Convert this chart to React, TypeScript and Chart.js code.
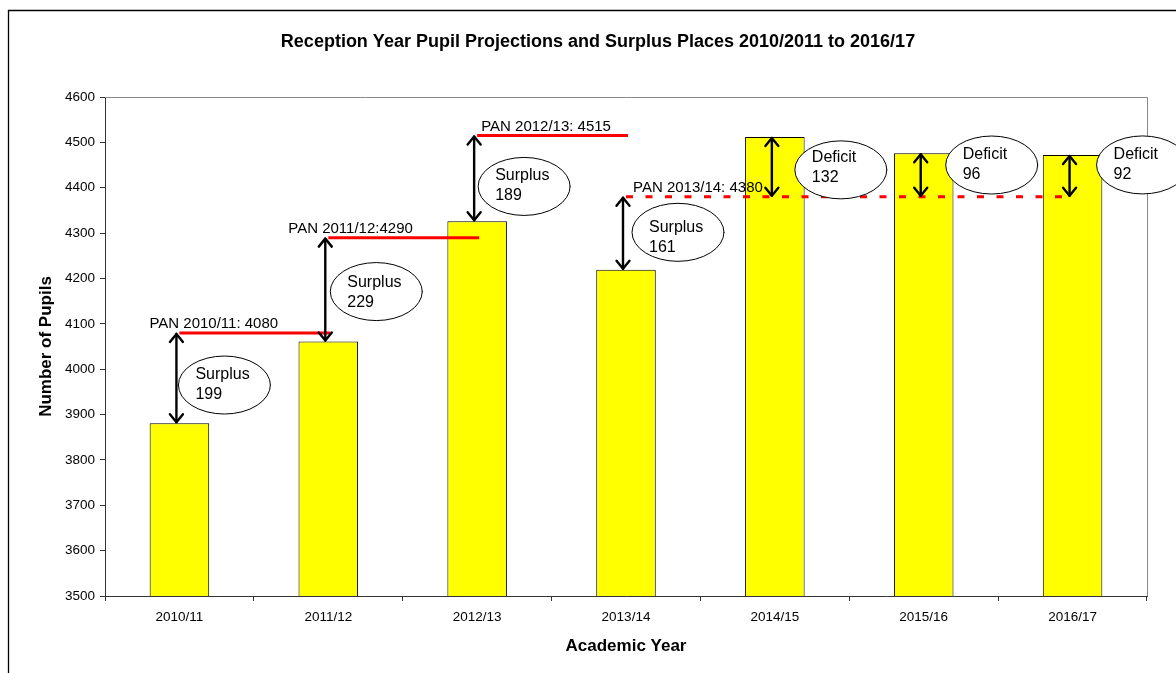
import React, { useEffect, useRef } from "react";
import { Chart, registerables } from "chart.js";

Chart.register(...registerables);

// ---------- data ----------
const categories = ["2010/11", "2011/12", "2012/13", "2013/14", "2014/15", "2015/16", "2016/17"];
const pupils = [3881, 4061, 4326, 4219, 4512, 4476, 4472];

const yMin = 3500;
const yMax = 4600;
const yStep = 100;

// PAN (published admission number) reference lines
const panLabels = ["PAN 2010/11: 4080", "PAN 2011/12:4290", "PAN 2012/13: 4515", "PAN 2013/14: 4380"];
const panValues = [4080, 4290, 4515, 4380];
const panFromCat = [0, 1, 2, 3];
const panToCat = [1, 2, 3, 6];

// surplus / deficit call-outs, one per year
const gapKinds = ["Surplus", "Surplus", "Surplus", "Surplus", "Deficit", "Deficit", "Deficit"];
const gapAmounts = [199, 229, 189, 161, 132, 96, 92];
const gapPanRef = [4080, 4290, 4515, 4380, 4380, 4380, 4380];

// ---------- styles / layout (pixels) ----------
const FONT = "'Liberation Sans', Arial, Helvetica, sans-serif";
const panStyle = {
  dashed: [false, false, false, true],
  labelDx: [-30, -40, 4, 7],
  labelDy: -5,
};
const calloutStyle = {
  arrowDx: -3,
  ellipseDx: [48, 51, 50, 55, 69, 71, 73],
  ellipseDy: [7, 2, 8, -1, 3, -10, -11],
  textDy: [-6, -5, -6, 0, -8, -6, -6],
  rx: 46,
  ry: 29,
};

const overlayPlugin = {
  id: "overlay",
  beforeDatasetsDraw(chart: any) {
    const { ctx, chartArea: a } = chart;
    ctx.save();
    ctx.strokeStyle = "#888888";
    ctx.lineWidth = 1;
    ctx.beginPath();
    ctx.moveTo(a.left, a.top + 0.5);
    ctx.lineTo(a.right + 0.5, a.top + 0.5);
    ctx.lineTo(a.right + 0.5, a.bottom);
    ctx.stroke();
    ctx.restore();
  },
  afterDatasetsDraw(chart: any) {
    const { ctx } = chart;
    const xs = chart.scales.x;
    const ys = chart.scales.y;
    ctx.save();

    // PAN lines
    panValues.forEach((v, i) => {
      const x0 = xs.getPixelForValue(panFromCat[i]);
      const x1 = xs.getPixelForValue(panToCat[i]);
      const py = ys.getPixelForValue(v);
      ctx.strokeStyle = "#FF0000";
      ctx.lineWidth = 3;
      ctx.setLineDash(panStyle.dashed[i] ? [7, 12.5] : []);
      ctx.beginPath();
      ctx.moveTo(x0, py);
      ctx.lineTo(x1 + 2, py);
      ctx.stroke();
    });
    ctx.setLineDash([]);

    // arrows
    pupils.forEach((v, i) => {
      const ax = xs.getPixelForValue(i) + calloutStyle.arrowDx;
      const yA = ys.getPixelForValue(gapPanRef[i]);
      const yB = ys.getPixelForValue(v);
      const top = Math.min(yA, yB);
      const bot = Math.max(yA, yB);
      ctx.strokeStyle = "#000";
      ctx.lineWidth = 2.4;
      ctx.lineCap = "round";
      ctx.lineJoin = "round";
      ctx.beginPath();
      ctx.moveTo(ax, top + 1);
      ctx.lineTo(ax, bot - 1);
      ctx.stroke();
      ctx.beginPath();
      ctx.moveTo(ax - 6.5, top + 9);
      ctx.lineTo(ax, top + 1);
      ctx.lineTo(ax + 6.5, top + 9);
      ctx.moveTo(ax - 6.5, bot - 9);
      ctx.lineTo(ax, bot - 1);
      ctx.lineTo(ax + 6.5, bot - 9);
      ctx.stroke();
    });

    // ellipses with text
    pupils.forEach((v, i) => {
      const ax = xs.getPixelForValue(i) + calloutStyle.arrowDx;
      const yA = ys.getPixelForValue(gapPanRef[i]);
      const yB = ys.getPixelForValue(v);
      const cx = ax + calloutStyle.ellipseDx[i];
      const cy = (yA + yB) / 2 + calloutStyle.ellipseDy[i];
      ctx.beginPath();
      ctx.ellipse(cx, cy, calloutStyle.rx, calloutStyle.ry, 0, 0, Math.PI * 2);
      ctx.fillStyle = "#FFFFFF";
      ctx.fill();
      ctx.strokeStyle = "#000";
      ctx.lineWidth = 1;
      ctx.stroke();
      ctx.fillStyle = "#000";
      ctx.font = `16px ${FONT}`;
      ctx.textAlign = "left";
      ctx.textBaseline = "alphabetic";
      const tx = cx - calloutStyle.rx + 17;
      const ty = cy + calloutStyle.textDy[i];
      ctx.fillText(gapKinds[i], tx, ty);
      ctx.fillText(String(gapAmounts[i]), tx, ty + 20);
    });

    // PAN labels
    panValues.forEach((v, i) => {
      const x0 = xs.getPixelForValue(panFromCat[i]);
      const py = ys.getPixelForValue(v);
      ctx.fillStyle = "#000";
      ctx.font = `15px ${FONT}`;
      ctx.textAlign = "left";
      ctx.textBaseline = "alphabetic";
      ctx.fillText(panLabels[i], x0 + panStyle.labelDx[i], py + panStyle.labelDy);
    });

    ctx.restore();
  },
  afterDraw(chart: any) {
    const { ctx, chartArea: a } = chart;
    ctx.save();
    // outer frame
    ctx.strokeStyle = "#000";
    ctx.lineWidth = 1.3;
    ctx.beginPath();
    ctx.moveTo(8.5, chart.height);
    ctx.lineTo(8.5, 10.5);
    ctx.lineTo(chart.width, 10.5);
    ctx.stroke();

    ctx.fillStyle = "#000";
    ctx.textBaseline = "alphabetic";
    ctx.textAlign = "center";
    ctx.font = `bold 18px ${FONT}`;
    ctx.fillText("Reception Year Pupil Projections and Surplus Places 2010/2011 to 2016/17", 598, 47);

    ctx.font = `bold 17px ${FONT}`;
    ctx.fillText("Academic Year", (a.left + a.right) / 2, 651);

    ctx.translate(51, (a.top + a.bottom) / 2);
    ctx.rotate(-Math.PI / 2);
    ctx.fillText("Number of Pupils", 0, 0);
    ctx.restore();
  },
};

export default function App() {
  const ref = useRef<HTMLCanvasElement | null>(null);

  useEffect(() => {
    if (!ref.current) return;
    const chart = new Chart(ref.current, {
      type: "bar",
      data: {
        labels: categories,
        datasets: [
          {
            data: pupils,
            backgroundColor: "#FFFF00",
            borderColor: "#000000",
            borderWidth: 1,
            categoryPercentage: 1,
            barPercentage: 0.4,
          },
        ],
      },
      options: {
        responsive: false,
        animation: false,
        events: [],
        layout: { padding: { top: 97, right: 29, left: 0, bottom: 0 } },
        plugins: {
          legend: { display: false },
          title: { display: false },
          tooltip: { enabled: false },
        },
        scales: {
          x: {
            grid: {
              display: true,
              drawOnChartArea: false,
              drawTicks: true,
              tickLength: 5,
              color: "#333333",
              offset: true,
            },
            border: { display: true, color: "#333333", width: 1 },
            ticks: {
              color: "#000",
              font: { size: 13.5, family: FONT },
              padding: 8,
              maxRotation: 0,
              autoSkip: false,
            },
            afterFit: (s: any) => {
              s.height = 77;
            },
          },
          y: {
            min: yMin,
            max: yMax,
            grid: {
              display: true,
              drawOnChartArea: false,
              drawTicks: true,
              tickLength: 5,
              color: "#333333",
            },
            border: { display: true, color: "#333333", width: 1 },
            ticks: {
              stepSize: yStep,
              color: "#000",
              font: { size: 13.5, family: FONT },
              padding: 5,
              callback: (v: any) => String(v),
            },
            afterFit: (s: any) => {
              s.width = 105;
            },
          },
        },
      },
      plugins: [overlayPlugin],
    });
    return () => chart.destroy();
  }, []);

  return (
    <div style={{ position: "fixed", left: 0, top: 0, width: 1176, height: 673, background: "#fff" }}>
      <canvas ref={ref} width={1176} height={673} style={{ display: "block" }} />
    </div>
  );
}
